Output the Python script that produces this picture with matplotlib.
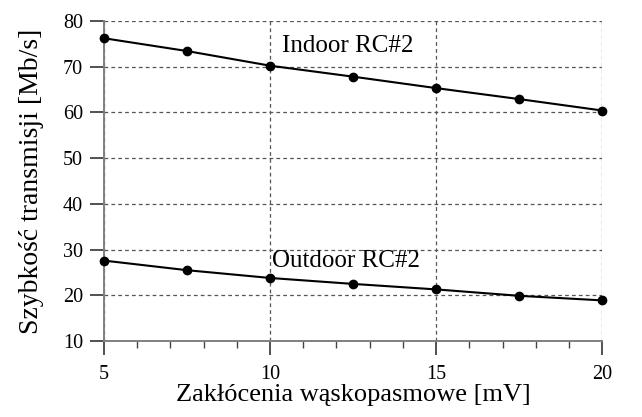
import matplotlib
matplotlib.use("Agg")
import matplotlib.pyplot as plt
from matplotlib.ticker import MultipleLocator

plt.rcParams['font.family'] = ['Liberation Serif', 'DejaVu Serif']

# zaklocenia [mV]
x_mv = [5, 7.5, 10, 12.5, 15, 17.5, 20]
indoor = [76.2, 73.4, 70.2, 67.8, 65.3, 62.9, 60.4]
outdoor = [27.6, 25.5, 23.8, 22.5, 21.3, 19.9, 18.9]
x_ticks = [5, 10, 15, 20]
y_ticks = [10, 20, 30, 40, 50, 60, 70, 80]

fig = plt.figure(figsize=(6.42, 4.17), dpi=100)
ax = fig.add_axes([0.162, 0.182, 0.776, 0.768])

ax.plot(x_mv, indoor, color='black', lw=1.5, marker='o', ms=6, zorder=3, clip_on=False)
ax.plot(x_mv, outdoor, color='black', lw=1.5, marker='o', ms=6, zorder=3, clip_on=False)

ax.text(10.35, 74.6, 'Indoor RC#2', fontsize=18, va='center', ha='left')
ax.text(10.05, 27.4, 'Outdoor RC#2', fontsize=18, va='center', ha='left')

ax.set_xlim(5, 20)
ax.set_ylim(10, 80)
ax.set_xticks(x_ticks)
ax.set_yticks(y_ticks)
ax.xaxis.set_minor_locator(MultipleLocator(1))

ax.grid(True, which='major', linestyle=(0, (3, 2.5)), color='#555555', lw=0.9)
for side in ['top', 'right']:
    ax.spines[side].set_visible(False)
for side in ['left', 'bottom']:
    ax.spines[side].set_color('#808080')
    ax.spines[side].set_linewidth(1.4)

ax.tick_params(axis='both', which='major', labelsize=14.5, direction='out',
               length=10, width=1.2, color='#333333')
ax.tick_params(axis='x', which='major', pad=7)
ax.tick_params(axis='y', which='major', pad=5)
ax.tick_params(axis='x', which='minor', direction='out', length=5, width=1.0, color='#444444')

ax.set_xlabel('Zakłócenia wąskopasmowe [mV]', fontsize=19, labelpad=0)
ax.set_ylabel('Szybkość transmisji [Mb/s]', fontsize=20, labelpad=14)

fig.savefig('out.png', dpi=100)
